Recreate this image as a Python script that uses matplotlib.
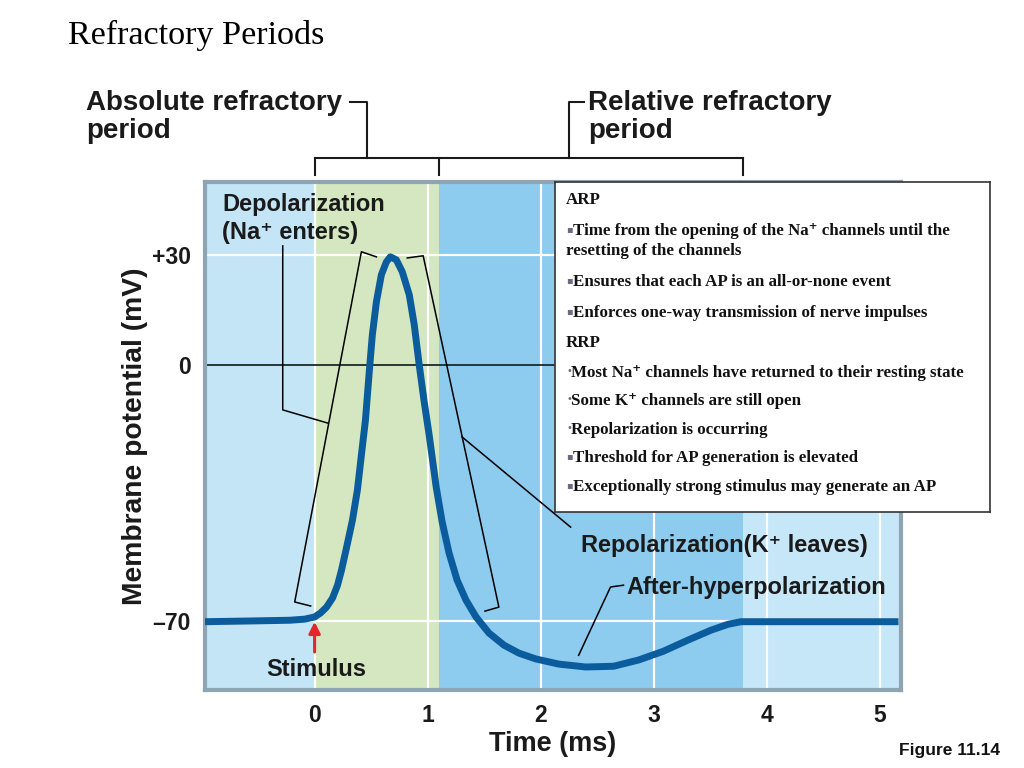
import numpy as np
import matplotlib.pyplot as plt

plt.rcParams['font.family'] = ['Liberation Sans', 'DejaVu Sans']

# action potential (time in ms, potential in mV)
time_ms = [-0.970, -0.573, -0.220, -0.088, 0.0, 0.053, 0.106, 0.159, 0.203, 0.238,
           0.282, 0.335, 0.379, 0.414, 0.450, 0.485, 0.511, 0.547, 0.591, 0.635,
           0.670, 0.723, 0.776, 0.838, 0.882, 0.926, 0.970, 1.014, 1.076, 1.129,
           1.190, 1.261, 1.340, 1.429, 1.543, 1.675, 1.808, 1.958, 2.160, 2.399,
           2.646, 2.866, 3.086, 3.307, 3.510, 3.660, 3.774, 5.168]
potential_mv = [-70.3, -70.1, -69.9, -69.6, -69.0, -67.9, -66.3, -63.8, -60.3, -56.2,
                -50.1, -42.5, -34.2, -24.7, -15.1, -1.4, 8.2, 17.3, 24.7, 28.2,
                29.6, 28.8, 25.5, 19.2, 11.0, 0.0, -10.1, -19.2, -33.4, -43.0,
                -51.5, -58.9, -64.4, -69.0, -73.4, -76.7, -78.9, -80.5, -81.9, -82.7,
                -82.5, -80.8, -78.4, -75.3, -72.6, -71.0, -70.3, -70.3]

# background phases
phase_edges = [-0.97, 0.0, 1.1, 3.79, 5.19]
phase_colors = ['#c3e5f5', '#d4e7c0', '#8dcbef', '#c5e7f7']

xtick_vals = [0, 1, 2, 3, 4, 5]
ytick_vals = [30, 0, -70]
ytick_labels = ['+30', '0', '\u201370']

# bracket / leader lines (ms, mV)
left_bracket_t = [-0.035, -0.176, 0.414, 0.547]
left_bracket_v = [-66.0, -64.9, 31.0, 29.6]
right_bracket_t = [0.82, 0.961, 1.631, 1.508]
right_bracket_v = [29.3, 29.9, -66.3, -67.4]
depol_leader_t = [-0.282, -0.282, 0.115]
depol_leader_v = [32.6, -12.3, -15.9]
repol_leader_t = [1.305, 2.266]
repol_leader_v = [-19.7, -44.4]
ahp_leader_t = [2.734, 2.619, 2.337]
ahp_leader_v = [-60.3, -60.8, -79.5]

box_bullets = ['', '\u25aa', '', '\u25aa', '\u25aa', '', '\u2022', '\u2022', '\u2022', '\u25aa', '\u25aa']
box_texts = [
    'ARP',
    'Time from the opening of the Na\u207a channels until the',
    'resetting of the channels',
    'Ensures that each AP is an all-or-none event',
    'Enforces one-way transmission of nerve impulses',
    'RRP',
    'Most Na\u207a channels have returned to their resting state',
    'Some K\u207a channels are still open',
    'Repolarization is occurring',
    'Threshold for AP generation is elevated',
    'Exceptionally strong stimulus may generate an AP',
]
box_rows_px = [198, 229, 249, 280, 311, 341, 371, 399, 428, 456, 485]

W, H = 1024, 768
fig = plt.figure(figsize=(W / 100, H / 100), dpi=100)
ax = fig.add_axes([205 / W, 1 - 690 / H, 696 / W, 508 / H])

for i in range(len(phase_colors)):
    ax.axvspan(phase_edges[i], phase_edges[i + 1], color=phase_colors[i], lw=0, zorder=0)

for t in xtick_vals:
    ax.axvline(t, color='white', lw=1.6, zorder=1)
ax.axhline(30, color='white', lw=1.6, zorder=1)
ax.axhline(-70, color='white', lw=1.6, zorder=1)
ax.axhline(0, color='#1c2a2a', lw=1.3, zorder=1.5)

for tt, vv in [(left_bracket_t, left_bracket_v), (right_bracket_t, right_bracket_v),
               (depol_leader_t, depol_leader_v), (repol_leader_t, repol_leader_v),
               (ahp_leader_t, ahp_leader_v)]:
    ax.plot(tt, vv, color='black', lw=1.1, zorder=2)

ax.plot(time_ms, potential_mv, color='#0b5c9c', lw=5, solid_capstyle='butt',
        solid_joinstyle='round', zorder=3)

ax.annotate('', xy=(0, -70.3), xytext=(0, -78.6),
            arrowprops=dict(arrowstyle='-|>', color='#e3262e', lw=2.2,
                            mutation_scale=17, shrinkA=0, shrinkB=0), zorder=4)

lbl = dict(fontsize=17, fontweight='bold', color='#1a1a1a')
ax.text(-0.82, 47.0, 'Depolarization\n(Na\u207a enters)', ha='left', va='top', linespacing=1.27, **lbl)
ax.text(2.355, -49.3, 'Repolarization(K\u207a leaves)', ha='left', va='center', **lbl)
ax.text(2.76, -60.8, 'After-hyperpolarization', ha='left', va='center', **lbl)
ax.text(-0.43, -83.3, 'Stimulus', ha='left', va='center', **lbl)

ax.set_xlim(phase_edges[0], phase_edges[-1])
ax.set_ylim(-89.0, 50.1)
ax.set_xticks(xtick_vals)
ax.set_xticklabels([str(t) for t in xtick_vals])
ax.set_yticks(ytick_vals)
ax.set_yticklabels(ytick_labels)
ax.tick_params(length=0, labelsize=16.5, pad=10)
for lab in ax.get_xticklabels() + ax.get_yticklabels():
    lab.set_fontweight('bold')
    lab.set_color('#1a1a1a')
ax.set_xlabel('Time (ms)', fontsize=19.5, fontweight='bold', color='#1a1a1a', labelpad=3)
for sp in ax.spines.values():
    sp.set_color('#8ea4b2')
    sp.set_linewidth(3)

# refractory period brackets above the plot
top_v, tick_v, lead_v = 56.7, 52.1, 72.1
ax.plot([phase_edges[1], phase_edges[3]], [top_v, top_v], color='#1a1a1a', lw=1.5, clip_on=False)
for t in phase_edges[1:4]:
    ax.plot([t, t], [top_v, tick_v], color='#1a1a1a', lw=1.5, clip_on=False)
ax.plot([0.31, 0.46, 0.46], [lead_v, lead_v, top_v], color='#1a1a1a', lw=1.5, clip_on=False)
ax.plot([2.38, 2.25, 2.25], [lead_v, lead_v, top_v], color='#1a1a1a', lw=1.5, clip_on=False)

fig.text(86 / W, 1 - 117 / H, 'Absolute refractory\nperiod', ha='left', va='center',
         fontsize=20, fontweight='bold', color='#1a1a1a', linespacing=1.08)
fig.text(588 / W, 1 - 117 / H, 'Relative refractory\nperiod', ha='left', va='center',
         fontsize=20, fontweight='bold', color='#1a1a1a', linespacing=1.08)

fig.text(135 / W, 1 - 436 / H, 'Membrane potential (mV)', rotation=90, ha='center', va='center',
         fontsize=20.3, fontweight='bold', color='#1a1a1a')

fig.text(68 / W, 1 - 35 / H, 'Refractory Periods', ha='left', va='center',
         fontsize=24.6, family=['Liberation Serif', 'DejaVu Serif'], color='black')
fig.text(1000 / W, 1 - 750 / H, 'Figure 11.14', ha='right', va='center',
         fontsize=12.5, fontweight='bold', color='#111111')

# info box
bx0, by0, bx1, by1 = 555, 182, 990, 512
box = fig.add_axes([bx0 / W, 1 - by1 / H, (bx1 - bx0) / W, (by1 - by0) / H])
box.set_xticks([])
box.set_yticks([])
box.set_xlim(bx0, bx1)
box.set_ylim(by1, by0)
box.set_facecolor('white')
for sp in box.spines.values():
    sp.set_color('#333333')
    sp.set_linewidth(1.2)

serif = ['Liberation Serif', 'DejaVu Serif']
for bullet, txt, y in zip(box_bullets, box_texts, box_rows_px):
    x = 566
    if bullet:
        box.text(x, y, bullet, ha='left', va='center', fontsize=7, color='#6a6a80',
                 family=['DejaVu Sans'])
        x = 573 if bullet == '\u25aa' else 571
    box.text(x, y + 2, txt, ha='left', va='center', fontsize=12.2, fontweight='bold',
             family=serif, color='#111111')

fig.savefig('out.png', dpi=100)
